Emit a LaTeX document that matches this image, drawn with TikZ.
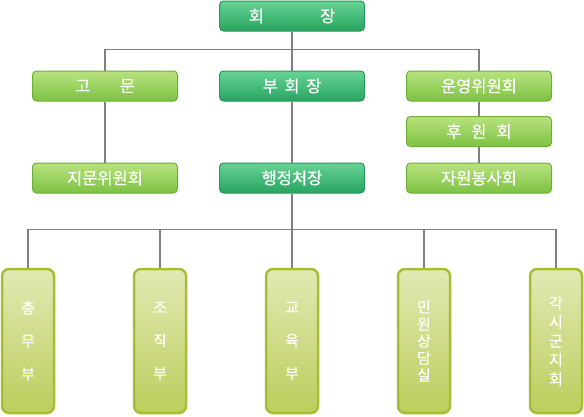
\documentclass[tikz,border=0pt]{standalone}
\usepackage{fontspec}
\newfontfamily\kr[FakeBold=0.4]{Noto Sans CJK KR}
\definecolor{tealtop}{HTML}{66D394}
\definecolor{tealbot}{HTML}{28A460}
\definecolor{tealedge}{HTML}{2A975A}
\definecolor{lgtop}{HTML}{B9E27F}
\definecolor{lgbot}{HTML}{7DC243}
\definecolor{lgedge}{HTML}{6DAF36}
\definecolor{oltop}{HTML}{E2E9B4}
\definecolor{olbot}{HTML}{BCCE5C}
\definecolor{oledge}{HTML}{A9BD34}
\definecolor{linegray}{HTML}{808080}
\tikzset{
  hbox/.style={rounded corners=4pt, minimum width=145pt, minimum height=30pt,
    text=white, font=\kr\fontsize{16.5}{18}\selectfont, inner sep=0pt},
  tealbox/.style={hbox, draw=tealedge, line width=1pt, top color=tealtop, bottom color=tealbot},
  greenbox/.style={hbox, draw=lgedge, line width=1pt, top color=lgtop, bottom color=lgbot},
  deptbox/.style={rounded corners=7pt, minimum width=52pt, minimum height=144pt,
    draw=oledge, line width=2.5pt, top color=oltop, bottom color=olbot,
    text=white, align=center, inner sep=0pt},
  conn/.style={draw=linegray, line width=1.3pt}
}
\begin{document}
\begin{tikzpicture}[x=1pt,y=-1pt]
\useasboundingbox (0,0) rectangle (584,416);
% top levels
\node[tealbox] (pres) at (292,16) {회\hspace{3.4em}장};
\node[greenbox] (adv) at (105,86) {고\hspace{1.8em}문};
\node[tealbox] (vp) at (292,86) {부\hspace{0.4em}회\hspace{0.4em}장};
\node[greenbox] (ops) at (479,86) {운영위원회};
\node[greenbox] (spon) at (479,131.5) {후\hspace{0.6em}원\hspace{0.6em}회};
\node[greenbox] (advc) at (105,178) {지문위원회};
\node[tealbox] (exec) at (292,178) {행정처장};
\node[greenbox] (vol) at (479,178) {자원봉사회};
% departments
\node[deptbox, font=\kr\fontsize{15}{33}\selectfont] (d1) at (28,341) {총\\무\\부};
\node[deptbox, font=\kr\fontsize{15}{33}\selectfont] (d2) at (160,341) {조\\직\\부};
\node[deptbox, font=\kr\fontsize{15}{33}\selectfont] (d3) at (292,341) {교\\육\\부};
\node[deptbox, font=\kr\fontsize{15}{17}\selectfont] (d4) at (424,341) {민\\원\\상\\담\\실};
\node[deptbox, font=\kr\fontsize{15}{19}\selectfont] (d5) at (556,341) {각\\시\\군\\지\\회};
% connectors
\coordinate (topj) at (292,49.5);
\coordinate (botj) at (292,229.5);
\draw[conn] (pres.south) -- (vp.north);
\draw[conn] (adv.north) |- (topj) -| (ops.north);
\draw[conn] (vp.south) -- (exec.north);
\draw[conn] (adv.south) -- (advc.north);
\draw[conn] (ops.south) -- (spon.north);
\draw[conn] (spon.south) -- (vol.north);
\draw[conn] (exec.south) -- (botj);
\draw[conn] (d1.north) |- (botj) -| (d5.north);
\draw[conn] (d2.north) -- (d2.north |- botj);
\draw[conn] (d3.north) -- (botj);
\draw[conn] (d4.north) -- (d4.north |- botj);
\end{tikzpicture}
\end{document}
